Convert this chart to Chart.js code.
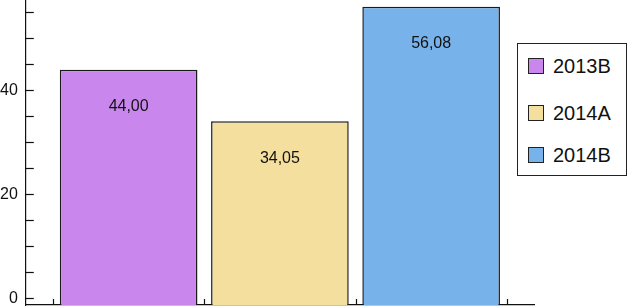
<!DOCTYPE html>
<html>
<head>
<meta charset="utf-8">
<script src="https://cdn.jsdelivr.net/npm/chart.js@4"></script>
<style>
  html, body { margin: 0; padding: 0; background: #fff; }
  #wrap { position: relative; width: 634px; height: 308px; }
  #legend { position: absolute; left: 517px; top: 43px; width: 110px; height: 133px;
            border: 1px solid #222; box-sizing: border-box; background: #fff;
            font-family: "Liberation Sans", Arial, sans-serif; font-size: 20px; color: #111; }
  .item { position: absolute; left: 10px; height: 22px; display: flex; align-items: center; }
  .sw { width: 16px; height: 16px; border: 1px solid #222; box-sizing: border-box; margin-right: 9px; }
</style>
</head>
<body>
<div id="wrap">
  <canvas id="c" width="634" height="308"></canvas>
  <div id="legend"></div>
</div>
<script>
const categories = ["2013B", "2014A", "2014B"];
const values = [44.00, 34.05, 56.08];
const valueLabels = ["44,00", "34,05", "56,08"];
const xPositions = [1, 2, 3];
const colors = ["#C987EE", "#F5DF9E", "#77B3EA"];
const yTickValues = [0, 5, 10, 15, 20, 25, 30, 35, 40, 45, 50, 55];
const yTickLabels = {0: "0", 20: "20", 40: "40"};
const xTickValues = [0.5, 1.5, 2.5, 3.5];
const yMin = -1.3, yMax = 57.4;
const xMin = 0.32, xMax = 3.68;

// HTML legend built from categories/colors
const legend = document.getElementById('legend');
const itemTops = [11, 58, 100];
categories.forEach((c, i) => {
  const it = document.createElement('div');
  it.className = 'item';
  it.style.top = itemTops[i] + 'px';
  const sw = document.createElement('span');
  sw.className = 'sw';
  sw.style.background = colors[i];
  const tx = document.createElement('span');
  tx.textContent = c;
  it.appendChild(sw); it.appendChild(tx);
  legend.appendChild(it);
});

const inwardTicks = {
  id: 'inwardTicks',
  afterDatasetsDraw(chart) {
    const ctx = chart.ctx, a = chart.chartArea;
    const ys = chart.scales.y, xs = chart.scales.x;
    ctx.save();
    ctx.strokeStyle = '#111';
    ctx.lineWidth = 1.2;
    ys.ticks.forEach(t => {
      const py = Math.round(ys.getPixelForValue(t.value)) + 0.5;
      ctx.beginPath(); ctx.moveTo(a.left, py); ctx.lineTo(a.left + 8, py); ctx.stroke();
    });
    xs.ticks.forEach(t => {
      const px = Math.round(xs.getPixelForValue(t.value)) + 0.5;
      ctx.beginPath(); ctx.moveTo(px, a.bottom); ctx.lineTo(px, a.bottom - 6); ctx.stroke();
    });
    ctx.restore();
  }
};

const barLabels = {
  id: 'barLabels',
  afterDatasetsDraw(chart) {
    const ctx = chart.ctx;
    const meta = chart.getDatasetMeta(0);
    ctx.save();
    ctx.font = '16px "Liberation Sans", Arial, sans-serif';
    ctx.fillStyle = '#111';
    ctx.textAlign = 'center';
    ctx.textBaseline = 'middle';
    meta.data.forEach((bar, i) => {
      ctx.fillText(valueLabels[i], bar.x, bar.y + 37);
    });
    ctx.restore();
  }
};

new Chart(document.getElementById('c'), {
  type: 'bar',
  data: {
    datasets: [{
      data: xPositions.map((x, i) => ({ x: x, y: values[i] })),
      backgroundColor: colors,
      borderColor: '#1a1a1a',
      borderWidth: 1.5,
      borderSkipped: 'bottom',
      base: yMin,
      barPercentage: 0.91,
      categoryPercentage: 1
    }]
  },
  options: {
    responsive: false,
    animation: false,
    events: [],
    layout: { padding: { left: 0, right: 100, top: 0, bottom: 3 } },
    plugins: { legend: { display: false }, tooltip: { enabled: false } },
    scales: {
      x: {
        type: 'linear',
        offset: false,
        min: xMin, max: xMax,
        afterBuildTicks: s => { s.ticks = xTickValues.map(v => ({ value: v })); },
        afterFit: s => { s.paddingLeft = 0; s.paddingRight = 0; },
        grid: { display: false, drawTicks: false },
        ticks: { display: false },
        border: { display: true, color: '#111', width: 1.2 }
      },
      y: {
        min: yMin, max: yMax,
        afterBuildTicks: s => { s.ticks = yTickValues.map(v => ({ value: v })); },
        afterFit: s => { s.paddingTop = 0; s.paddingBottom = 0; s.width = s.width - 8; },
        grid: { display: false, drawTicks: false },
        border: { display: true, color: '#111', width: 1.2 },
        ticks: {
          padding: 8,
          color: '#111',
          font: { family: '"Liberation Sans", Arial, sans-serif', size: 16 },
          callback: v => (yTickLabels[v] !== undefined ? yTickLabels[v] : '')
        }
      }
    }
  },
  plugins: [inwardTicks, barLabels]
});
</script>
</body>
</html>
